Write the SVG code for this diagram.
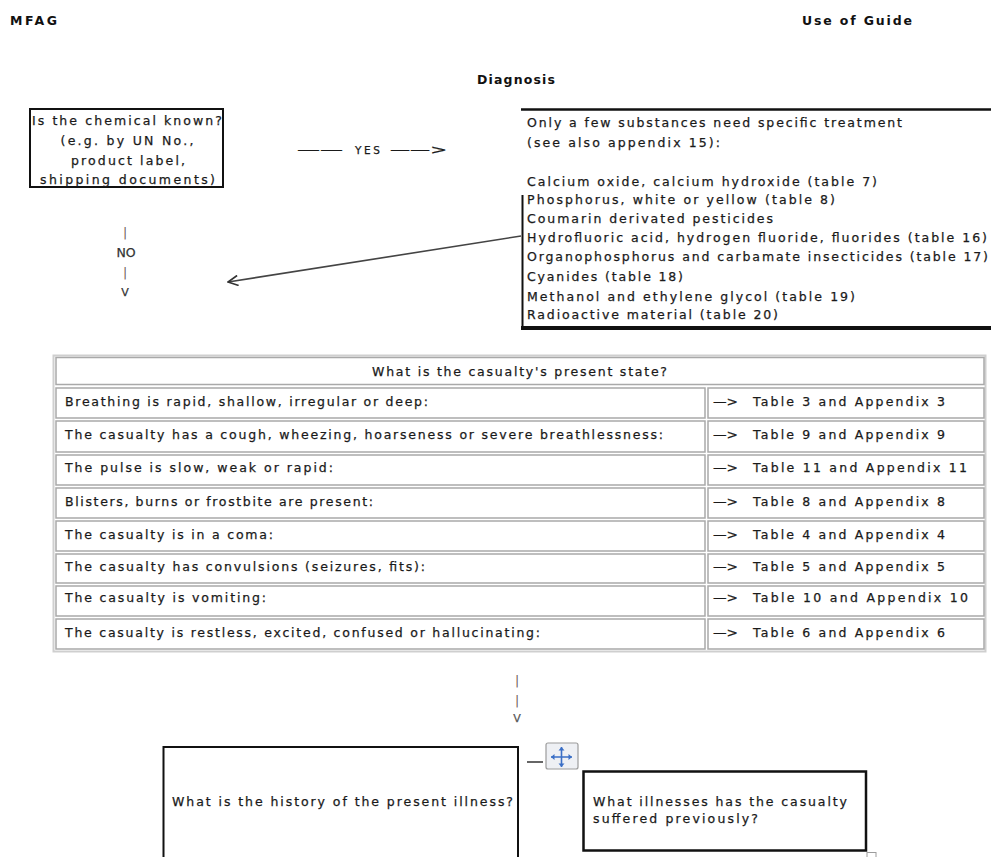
<svg xmlns="http://www.w3.org/2000/svg" width="991" height="857" viewBox="0 0 991 857">
<style>
text{font-family:"DejaVu Sans","Verdana","Liberation Sans",sans-serif;fill:#1a1a1a;font-size:12.5px;stroke:#1a1a1a;stroke-width:0.25}
.b{font-weight:bold;font-size:12.5px;fill:#111;stroke:none}
.m{text-anchor:middle}
.bx{fill:none;stroke:#111;stroke-width:2}
.cell{fill:#fff;stroke:#a9a9a9;stroke-width:1.5}
.pipe{fill:#6e5a5a;stroke:none}
.ln{stroke:#444;stroke-width:1.6;fill:none}
</style>
<defs>
<marker id="open" viewBox="0 0 12 12" refX="11" refY="6" markerWidth="12" markerHeight="12" markerUnits="userSpaceOnUse" orient="auto">
<path d="M1,1 L11,6 L1,11" fill="none" stroke="#333" stroke-width="1.6"/>
</marker>
</defs>
<rect width="991" height="857" fill="#fff"/>

<g id="page-header">
<text class="b" x="10" y="25" textLength="47">MFAG</text>
<text class="b" x="802" y="25" textLength="110">Use of Guide</text>
<text class="b" x="477" y="84" textLength="78">Diagnosis</text>
</g>

<g id="node-chemical-known">
<rect class="bx" x="30" y="109" width="193" height="78"/>
<text class="m" x="127" y="125" textLength="190">Is the chemical known?</text>
<text class="m" x="127" y="145" textLength="133">(e.g. by UN No.,</text>
<text class="m" x="128" y="165" textLength="114">product label,</text>
<text class="m" x="127.5" y="184" textLength="175">shipping documents)</text>
</g>

<g id="node-specific-treatment">
<path d="M521,109.5 H991" stroke="#111" stroke-width="2.5" fill="none"/>
<path d="M522.5,195 V330" stroke="#111" stroke-width="2" fill="none"/>
<path d="M521,328 H991" stroke="#111" stroke-width="4" fill="none"/>
<text x="527" y="127" textLength="375">Only a few substances need specific treatment</text>
<text x="527" y="147" textLength="193">(see also appendix 15):</text>
<text x="527" y="186" textLength="350">Calcium oxide, calcium hydroxide (table 7)</text>
<text x="527" y="204" textLength="308">Phosphorus, white or yellow (table 8)</text>
<text x="527" y="223" textLength="246">Coumarin derivated  pesticides</text>
<text x="527" y="242" textLength="460">Hydrofluoric acid, hydrogen fluoride, fluorides (table 16)</text>
<text x="527" y="261" textLength="461">Organophosphorus and carbamate insecticides (table 17)</text>
<text x="527" y="281" textLength="156">Cyanides (table 18)</text>
<text x="527" y="301" textLength="328">Methanol and ethylene glycol (table 19)</text>
<text x="527" y="319" textLength="251">Radioactive material  (table 20)</text>
</g>

<g id="connectors">
<g id="yes-arrow">
<text x="297" y="154" textLength="46" lengthAdjust="spacingAndGlyphs">——</text>
<text x="355" y="154" textLength="25" style="font-size:10.5px">YES</text>
<text x="390" y="154" textLength="57" lengthAdjust="spacingAndGlyphs">——&gt;</text>
</g>
<g id="no-arrow">
<text class="m pipe" x="125" y="237">|</text>
<text class="m" x="126" y="257" style="fill:#333;stroke:#333">NO</text>
<text class="m pipe" x="125" y="277">|</text>
<text class="m" x="125" y="296" style="fill:#333;stroke:#333;font-size:11px">V</text>
</g>
<path id="diag-arrow" class="ln" d="M521,236 L228,282" marker-end="url(#open)"/>
<g id="down-arrow">
<text class="m pipe" x="517" y="685">|</text>
<text class="m pipe" x="517" y="705">|</text>
<text class="m" x="517" y="722" style="fill:#555;stroke:#555;font-size:11px">V</text>
</g>
<path id="dash-to-handle" d="M527,762 H543" stroke="#333" stroke-width="1.5"/>
</g>

<g id="node-state-table">
<rect x="53.5" y="355.5" width="932" height="296" fill="#fff" stroke="#cfcfcf" stroke-width="2"/>
<rect class="cell" x="56" y="357.5" width="928" height="27"/>
<text class="m" x="519.5" y="376" textLength="295">What is the casualty's present state?</text>
<g id="row1">
<rect class="cell" x="56" y="388" width="649" height="30"/><rect class="cell" x="708" y="388" width="276" height="30"/>
<text x="65" y="406" textLength="363">Breathing is rapid, shallow, irregular or deep:</text>
<text x="713" y="406" textLength="25" lengthAdjust="spacingAndGlyphs">—&gt;</text>
<text x="753" y="406" textLength="192">Table 3 and Appendix 3</text>
</g>
<g id="row2">
<rect class="cell" x="56" y="421" width="649" height="31"/><rect class="cell" x="708" y="421" width="276" height="31"/>
<text x="65" y="439" textLength="598">The casualty has a cough, wheezing, hoarseness  or severe  breathlessness:</text>
<text x="713" y="439" textLength="25" lengthAdjust="spacingAndGlyphs">—&gt;</text>
<text x="753" y="439" textLength="192">Table 9 and Appendix 9</text>
</g>
<g id="row3">
<rect class="cell" x="56" y="455" width="649" height="30"/><rect class="cell" x="708" y="455" width="276" height="30"/>
<text x="65" y="472" textLength="268">The pulse is slow, weak or rapid:</text>
<text x="713" y="472" textLength="25" lengthAdjust="spacingAndGlyphs">—&gt;</text>
<text x="753" y="472" textLength="214">Table 11 and Appendix 11</text>
</g>
<g id="row4">
<rect class="cell" x="56" y="488" width="649" height="30"/><rect class="cell" x="708" y="488" width="276" height="30"/>
<text x="65" y="506" textLength="308">Blisters, burns or frostbite are present:</text>
<text x="713" y="506" textLength="25" lengthAdjust="spacingAndGlyphs">—&gt;</text>
<text x="753" y="506" textLength="192">Table 8 and Appendix 8</text>
</g>
<g id="row5">
<rect class="cell" x="56" y="521" width="649" height="30"/><rect class="cell" x="708" y="521" width="276" height="30"/>
<text x="65" y="539" textLength="208">The casualty is in a coma:</text>
<text x="713" y="539" textLength="25" lengthAdjust="spacingAndGlyphs">—&gt;</text>
<text x="753" y="539" textLength="192">Table 4 and Appendix 4</text>
</g>
<g id="row6">
<rect class="cell" x="56" y="554" width="649" height="29"/><rect class="cell" x="708" y="554" width="276" height="29"/>
<text x="65" y="571" textLength="360">The casualty has convulsions (seizures, fits):</text>
<text x="713" y="571" textLength="25" lengthAdjust="spacingAndGlyphs">—&gt;</text>
<text x="753" y="571" textLength="192">Table 5 and Appendix 5</text>
</g>
<g id="row7">
<rect class="cell" x="56" y="586" width="649" height="30"/><rect class="cell" x="708" y="586" width="276" height="30"/>
<text x="65" y="602" textLength="201">The casualty is vomiting:</text>
<text x="713" y="602" textLength="25" lengthAdjust="spacingAndGlyphs">—&gt;</text>
<text x="753" y="602" textLength="215">Table 10 and Appendix 10</text>
</g>
<g id="row8">
<rect class="cell" x="56" y="619" width="649" height="30"/><rect class="cell" x="708" y="619" width="276" height="30"/>
<text x="65" y="637" textLength="475">The casualty is restless, excited, confused or hallucinating:</text>
<text x="713" y="637" textLength="25" lengthAdjust="spacingAndGlyphs">—&gt;</text>
<text x="753" y="637" textLength="192">Table 6 and Appendix 6</text>
</g>
</g>

<g id="node-history">
<rect class="bx" x="163.5" y="747" width="354.5" height="120"/>
<text x="172" y="806" textLength="341">What is the history of the present illness?</text>
</g>

<g id="move-handle">
<rect x="546" y="743" width="32" height="26" rx="2" fill="#eef0f4" stroke="#9c9c9c" stroke-width="1.2"/>
<path d="M551,757 H572 M561.5,747 V767" stroke="#3b6fc6" stroke-width="1.6"/>
<path d="M551,757 l3.5,-3 v6 z M572,757 l-3.5,-3 v6 z M561.5,747 l-3,3.5 h6 z M561.5,767 l-3,-3.5 h6 z" fill="#3b6fc6"/>
</g>

<g id="node-previous-illnesses">
<rect x="583.5" y="771.5" width="282.5" height="79" fill="none" stroke="#111" stroke-width="2.5"/>
<text x="593" y="806" textLength="254">What illnesses has the casualty</text>
<text x="593" y="823" textLength="165">suffered  previously?</text>
</g>

<g id="resize-handle">
<rect x="867" y="852.5" width="9" height="9" fill="#fff" stroke="#9c9c9c" stroke-width="1"/>
</g>
</svg>
